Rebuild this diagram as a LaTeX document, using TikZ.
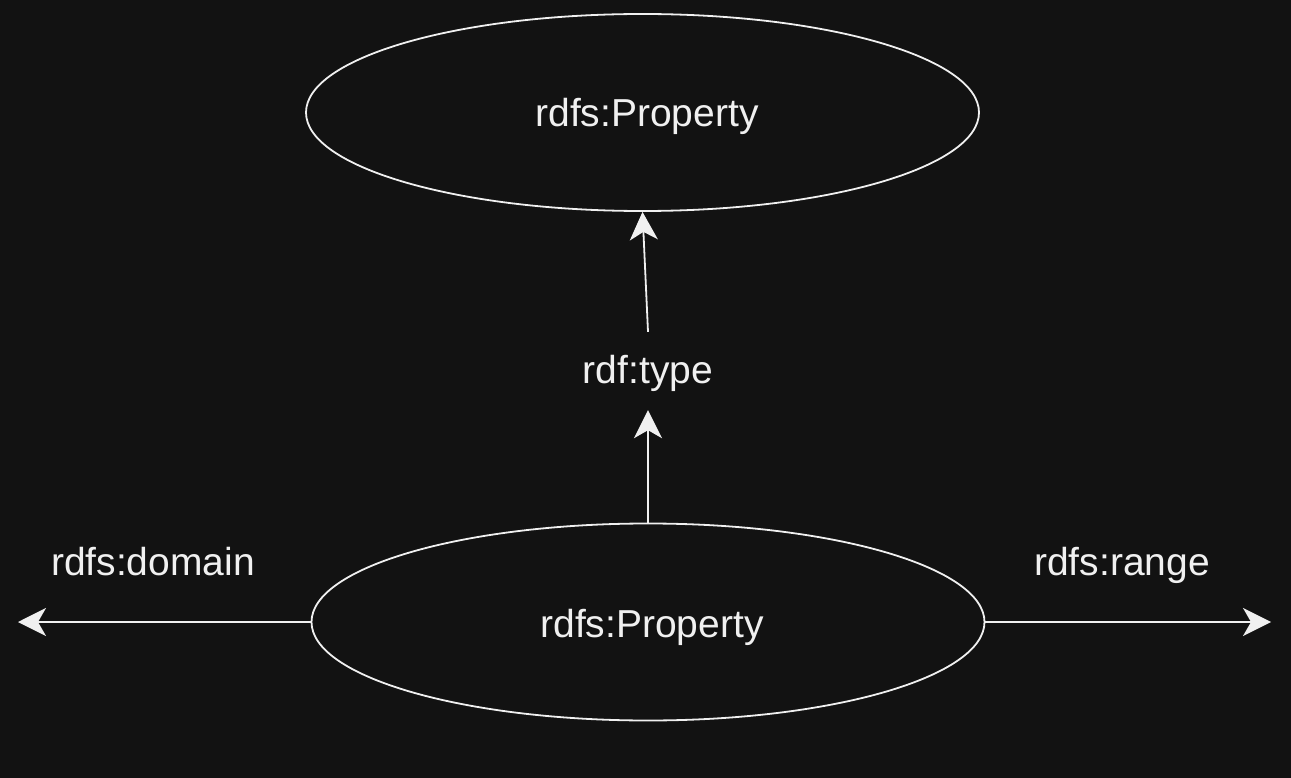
\documentclass[tikz,border=0pt]{standalone}
\usepackage{fontspec}
\setmainfont{Liberation Sans}
\usetikzlibrary{shapes.geometric,arrows.meta}
\definecolor{bg}{HTML}{121212}
\definecolor{fg}{HTML}{F0F0F0}
\begin{document}
\begin{tikzpicture}[x=1pt,y=-1pt,
  every node/.style={text=fg,font=\fontsize{39}{45}\selectfont,text height=30pt,text depth=6pt},
  classnode/.style={ellipse,draw=fg,line width=1.8pt,minimum width=673pt,minimum height=197pt,inner sep=0pt},
  link/.style={draw=fg,line width=1.8pt,-{Stealth[length=28pt,width=28pt,inset=8pt]}},
  label/.style={inner sep=0pt}]
  \fill[bg] (0,0) rectangle (1291,778);
  \useasboundingbox (0,0) rectangle (1291,778);
  % class ellipses
  \node[classnode] (top) at (642.5,112.5) {};
  \node[classnode] (bot) at (648,622) {};
  \node[label] at (647,115) {rdfs:Property};
  \node[label] at (652,625) {rdfs:Property};
  % edge labels
  \node[label,minimum height=78pt] (type) at (648,371) {rdf:type};
  \node[label] (domain) at (153,563) {rdfs:domain};
  \node[label] (range) at (1122,563) {rdfs:range};
  % loose arrow ends
  \coordinate (dstart) at (18,622);
  \coordinate (rend) at (1271,622);
  % connectors
  \draw[link] (bot.north) -- (type.south);
  \draw[link] (type.north) -- (top.south);
  \draw[link] (bot.west) -- (dstart);
  \draw[link] (bot.east) -- (rend);
\end{tikzpicture}
\end{document}
